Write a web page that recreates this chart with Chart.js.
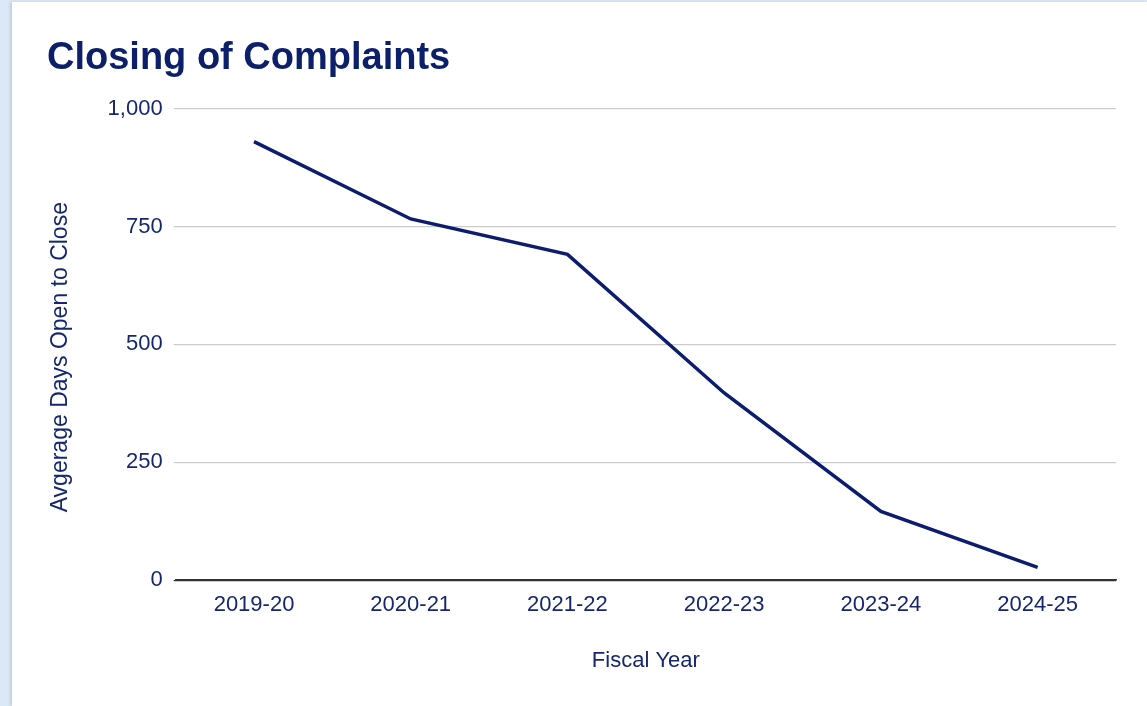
<!DOCTYPE html>
<html>
  <head>
    <title>Closing of Complaints</title>
    <style>
      html, body { margin: 0; padding: 0; }
      body { background: #dbe8f7; width: 1147px; height: 706px; overflow: hidden; }
      #card {
        position: absolute; left: 12px; top: 2px; width: 1135px; height: 704px;
        background: #ffffff; box-shadow: -2px 0 3px rgba(0, 0, 0, 0.12);
      }
    </style>
  </head>
  <body>
    <div id="card"><canvas id="myChart" width="1135" height="704"></canvas></div>

    <script src="https://cdn.jsdelivr.net/npm/chart.js@4"></script>
    <script>
      // 資料
      const fiscalYears = ["2019-20", "2020-21", "2021-22", "2022-23", "2023-24", "2024-25"];
      const avgDaysOpen = [930, 766, 691, 397, 146, 27];
      const yTicks = [0, 250, 500, 750, 1000];

      const navy = "#0c1c6e";
      const textNavy = "#17276f";
      const font = "'Liberation Sans', Arial, sans-serif";

      const ctx = document.getElementById("myChart").getContext("2d");
      const myChart = new Chart(ctx, {
        type: "line",
        data: {
          labels: fiscalYears,
          datasets: [
            {
              label: "Avgerage Days Open to Close",
              data: avgDaysOpen,
              borderColor: navy,
              backgroundColor: navy,
              borderWidth: 3.5,
              pointRadius: 0,
              tension: 0,
              fill: false,
            },
          ],
        },
        options: {
          responsive: false,
          animation: false,
          layout: { padding: { left: 35, right: 31, top: 20, bottom: 32 } },
          plugins: {
            legend: { display: false },
            tooltip: { enabled: false },
            title: {
              display: true,
              text: "Closing of Complaints",
              align: "start",
              color: "#0b1f6b",
              font: { family: font, size: 38, weight: "bold" },
              padding: { top: 14, bottom: 27 },
            },
          },
          scales: {
            x: {
              offset: true,
              grid: { display: false, drawTicks: false },
              border: { display: true, color: "#333333", width: 1.5 },
              ticks: { color: textNavy, padding: 12, font: { family: font, size: 22 } },
              title: {
                display: true,
                text: "Fiscal Year",
                color: textNavy,
                font: { family: font, size: 22 },
                padding: { top: 17, bottom: 0 },
              },
            },
            y: {
              min: 0,
              max: 1000,
              afterBuildTicks: (axis) => {
                axis.ticks = yTicks.map((v) => ({ value: v }));
              },
              grid: {
                color: (c) => (c.tick && c.tick.value === 0 ? "#333333" : "#cccccc"),
                lineWidth: 1.2,
                tickLength: 2,
              },
              border: { display: false },
              ticks: {
                color: textNavy,
                padding: 11,
                font: { family: font, size: 22 },
                callback: (v) => v.toLocaleString("en-US"),
              },
              title: {
                display: true,
                // trailing spaces nudge the rotated title down, as in the original
                text: "Avgerage Days Open to Close    ",
                color: textNavy,
                font: { family: font, size: 23 },
                padding: { top: 0, bottom: 22 },
              },
            },
          },
        },
      });
    </script>
  </body>
</html>
